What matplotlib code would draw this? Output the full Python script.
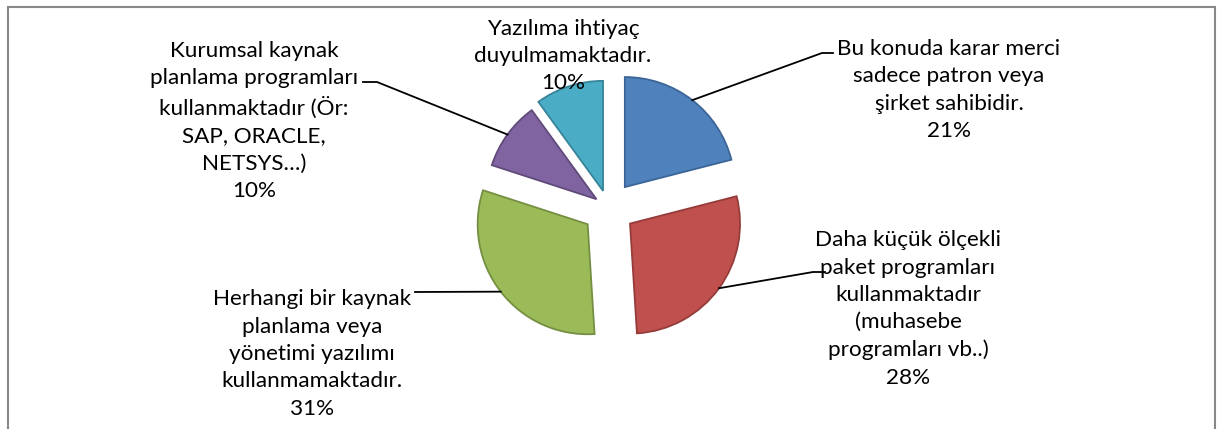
import numpy as np
import matplotlib
matplotlib.use("Agg")
import matplotlib.pyplot as plt
from matplotlib.patches import Rectangle

plt.rcParams['font.family'] = ['Lato', 'DejaVu Sans']

# answer shares (%), clockwise from 12 o'clock
labels = [
    "Bu konuda karar merci\nsadece patron veya\nşirket sahibidir.",
    "Daha küçük ölçekli\npaket programları\nkullanmaktadır\n(muhasebe\nprogramları vb..)",
    "Herhangi bir kaynak\nplanlama veya\nyönetimi yazılımı\nkullanmamaktadır.",
    "Kurumsal kaynak\nplanlama programları\nkullanmaktadır (Ör:\nSAP, ORACLE,\nNETSYS…)",
    "Yazılıma ihtiyaç\nduyulmamaktadır.",
]
shares = [21, 28, 31, 10, 10]

colors = ['#4F81BD', '#C0504D', '#9BBB59', '#8064A2', '#4BACC6']
edges = ['#3B6596', '#953C3A', '#758F42', '#5F4A7A', '#36849A']

W, H = 1223, 429
fig = plt.figure(figsize=(W / 100, H / 100), dpi=100)
ax = fig.add_axes([0, 0, 1, 1])

center = (608.6, H - 208)
radius = 110
explode = [26.5, 26.5, 26.5, 15, 18]

wedges, _ = ax.pie(shares, colors=colors, startangle=90, counterclock=False,
                   center=center, radius=radius, explode=explode,
                   wedgeprops=dict(linewidth=1.3))
for w, ec in zip(wedges, edges):
    w.set_edgecolor(ec)

ax.set_xlim(0, W)
ax.set_ylim(0, H)
ax.set_aspect('equal')
ax.axis('off')

# label block centres (x, y from top) and leader end points
label_pos = [(949, 90), (908, 309), (312, 354), (254, 121), (563, 56)]
leaders = [
    [(822, 53), (833, 53)],
    [(813, 272), (825, 272)],
    [(415, 292)],
    [(377, 82), (363, 82)],
    None,
]

for w, lab, val, (lx, ly), lead in zip(wedges, labels, shares, label_pos, leaders):
    ax.text(lx, H - ly, f"{lab}\n{val}%", ha='center', va='center',
            fontsize=16.2, linespacing=1.46, color='black', zorder=5)
    if lead is None:
        continue
    mid = np.deg2rad((w.theta1 + w.theta2) / 2)
    cx, cy = w.center
    sx, sy = cx + w.r * np.cos(mid), cy + w.r * np.sin(mid)
    xs = [sx] + [p[0] for p in lead]
    ys = [sy] + [H - p[1] for p in lead]
    ax.plot(xs, ys, color='black', lw=1.3, zorder=4)

# outer chart frame
ax.add_patch(Rectangle((8, -20), 1207, H - 7 + 20, fill=False,
                       edgecolor='#888888', lw=1.5, zorder=0))

fig.savefig("out.png", dpi=100)
